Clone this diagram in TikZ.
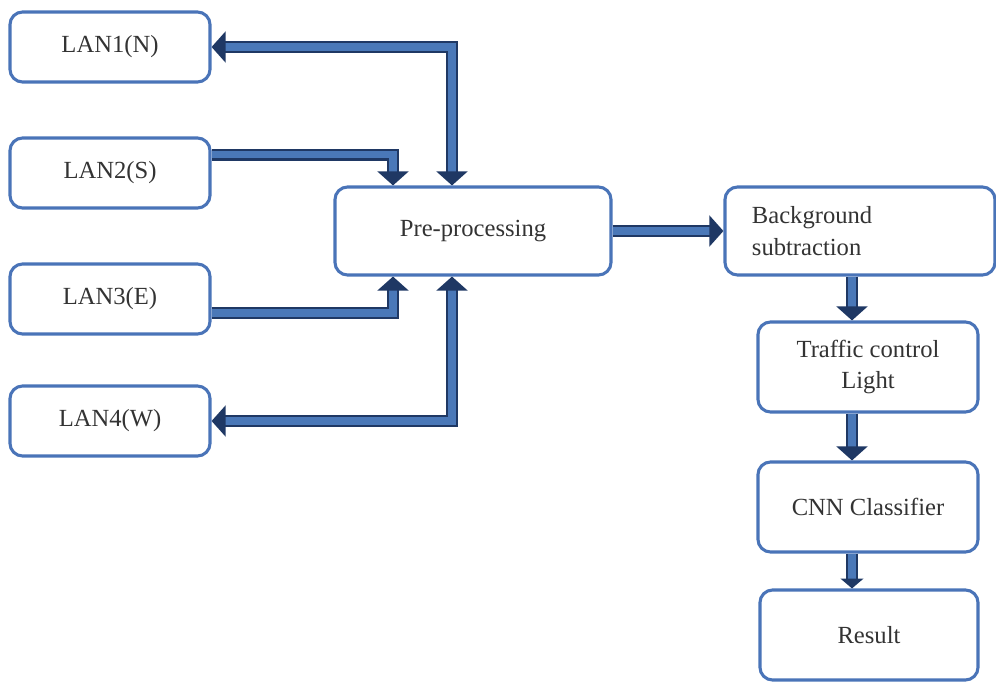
\documentclass[tikz,border=0pt]{standalone}
\usepackage{fontspec}
\setmainfont{Liberation Serif}
\usetikzlibrary{arrows.meta}
\definecolor{boxblue}{HTML}{4A74B8}
\definecolor{arrdark}{HTML}{1F3864}
\definecolor{arrfill}{HTML}{4A78B8}
\definecolor{txtgray}{HTML}{333333}

\begin{document}
\begin{tikzpicture}[
  x=0.025cm, y=-0.025cm,
  stage/.style={draw=boxblue, line width=2.2pt, rounded corners=9pt, fill=white,
    text=txtgray, font=\fontsize{17.5}{22.5}\selectfont, align=center, inner sep=2pt},
  lanbox/.style={stage, minimum width=5cm, minimum height=1.75cm},
  blk/.style={draw=arrdark, line width=1.8pt, double=arrfill, double distance=5.2pt},
  tip/.style={-{Triangle[width=22pt,length=10pt]}},
  tips/.style={{Triangle[width=22pt,length=10pt]}-{Triangle[width=22pt,length=10pt]}},
  smalltip/.style={-{Triangle[width=16pt,length=7pt]}},
]

\useasboundingbox (0,0) rectangle (996,684);

\node [lanbox] (lan1) at (110,47) {LAN1(N)};
\node [lanbox] (lan2) at (110,173) {LAN2(S)};
\node [lanbox] (lan3) at (110,299) {LAN3(E)};
\node [lanbox] (lan4) at (110,421) {LAN4(W)};

\node [stage, minimum width=6.9cm, minimum height=2.2cm] (pre) at (473,231) {Pre-processing};
\node [stage, minimum height=2.2cm, text width=5.4cm, inner xsep=0.675cm, align=left]
  (bgs) at (860,231) {Background\\subtraction};
\node [stage, minimum width=5.5cm, minimum height=2.25cm] (tcl) at (868,367) {Traffic control\\Light};
\node [stage, minimum width=5.5cm, minimum height=2.25cm] (cnn) at (868,507) {CNN Classifier};
\node [stage, minimum width=5.45cm, minimum height=2.25cm] (res) at (869,635) {Result};

\coordinate (xa) at (452,0);
\coordinate (xb) at (393,0);
\coordinate (xc) at (852,0);

\draw [blk,tips] (lan1.east) -| (xa |- pre.north);
\draw [blk,tip] ([yshift=13pt]lan2.east) -| (xb |- pre.north);
\draw [blk,tip] ([yshift=-10pt]lan3.east) -| (xb |- pre.south);
\draw [blk,tips] (lan4.east) -| (xa |- pre.south);

\draw [blk,tip] (pre.east) -- (bgs.west);
\draw [blk,tip] (xc |- bgs.south) -- (xc |- tcl.north);
\draw [blk,tip] (xc |- tcl.south) -- (xc |- cnn.north);
\draw [blk,smalltip] (xc |- cnn.south) -- (xc |- res.north);

\end{tikzpicture}
\end{document}
